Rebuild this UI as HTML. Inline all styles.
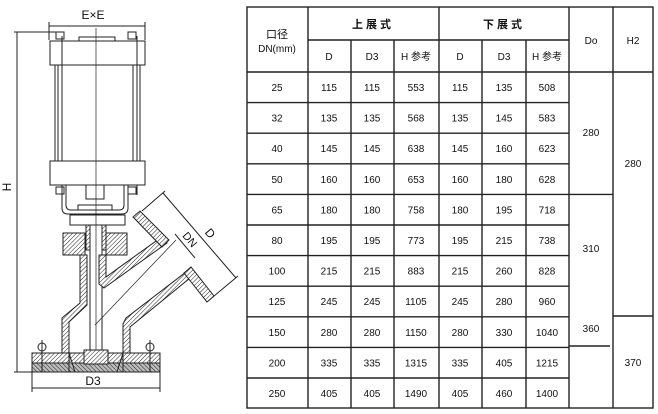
<!DOCTYPE html>
<html><head><meta charset="utf-8"><style>
html,body{margin:0;padding:0;background:#fff;width:658px;height:414px;overflow:hidden}
svg{display:block}
text{font-family:"Liberation Sans","Noto Sans CJK SC",sans-serif;fill:#111}
</style></head><body>
<svg width="658" height="414" viewBox="0 0 658 414" xmlns="http://www.w3.org/2000/svg">
<defs>
<pattern id="h" width="3" height="3" patternUnits="userSpaceOnUse" patternTransform="rotate(45)">
<rect width="3" height="3" fill="#fff"/><line x1="0" y1="0" x2="0" y2="3" stroke="#222" stroke-width="1"/></pattern>
<pattern id="h2" width="3" height="3" patternUnits="userSpaceOnUse" patternTransform="rotate(-45)">
<rect width="3" height="3" fill="#bbb"/><line x1="0" y1="0" x2="0" y2="3" stroke="#222" stroke-width="1"/></pattern>
</defs>

<!-- ===== Valve drawing ===== -->
<g stroke="#222" stroke-width="1" fill="none">
<!-- E x E dim -->
<line x1="49" y1="26" x2="145" y2="26"/>
<line x1="49" y1="22" x2="49" y2="40"/><line x1="145" y1="22" x2="145" y2="40"/>
<!-- H dim -->
<line x1="17" y1="32" x2="17" y2="372"/>
<line x1="14" y1="32" x2="60" y2="32"/><line x1="14" y1="372" x2="32" y2="372"/>
<!-- D3 dim -->
<line x1="32" y1="388" x2="160" y2="388"/>
<line x1="32" y1="372" x2="32" y2="392"/><line x1="160" y1="372" x2="160" y2="392"/>
<!-- top plate -->
<rect x="79" y="37" width="36" height="4"/>
<rect x="50" y="41" width="95" height="24" fill="#fff"/>
<rect x="56" y="32" width="8" height="7"/><rect x="128" y="32" width="8" height="7"/>
<!-- cylinder -->
<rect x="55" y="65" width="85" height="96"/>
<line x1="58" y1="65" x2="58" y2="161"/><line x1="62" y1="36" x2="62" y2="195"/>
<line x1="133" y1="65" x2="133" y2="161"/><line x1="137" y1="36" x2="137" y2="195"/>
<rect x="50" y="161" width="95" height="24" fill="#fff"/>
<rect x="56" y="187" width="8" height="7"/><rect x="128" y="187" width="8" height="7"/>
<!-- yoke -->
<path d="M62 185 V208 Q62 214 68 214 H122 Q128 214 128 208 V185"/>
<path d="M66 185 V205 Q66 210 71 210 H119 Q124 210 124 205 V185"/>
<rect x="86" y="185" width="18" height="14"/>
<rect x="78" y="205" width="34" height="5"/>
<rect x="70" y="215" width="55" height="10"/>
<!-- center line -->
<line x1="96" y1="28" x2="96" y2="372" stroke-width="0.7"/>
<!-- stem -->
<rect x="90" y="225" width="12" height="135"/>
<rect x="86" y="225" width="4" height="25" fill="url(#h)"/>
<rect x="102" y="225" width="4" height="25" fill="url(#h)"/>
<!-- bonnet flange -->
<rect x="63" y="233" width="22" height="22" fill="url(#h)"/>
<rect x="106" y="233" width="21" height="22" fill="url(#h)"/>
<!-- body walls -->
<polygon points="80,255 87,255 87,305 69,322 69,353 62,353 62,318 80,303" fill="url(#h)"/>
<polygon points="99,255 106,255 106,277 163,236 167,243 104,288 99,284" fill="url(#h)"/>
<polygon points="123,353 130,353 130,327 190,278 186,272 126,318 123,324" fill="url(#h)"/>
<!-- branch flanges -->
<polygon points="133,217 140,211 169,240 162,247" fill="url(#h)"/>
<polygon points="184,273 191,267 214,296 207,302" fill="url(#h)"/>
<!-- base flange -->
<rect x="32" y="353" width="128" height="10" fill="url(#h)"/>
<rect x="32" y="363" width="128" height="9" fill="url(#h2)"/>
<polygon points="69,353 75,372 117,372 123,353 123,372 69,372" fill="url(#h2)"/>
<rect x="84" y="350" width="24" height="14" fill="url(#h)"/>
<circle cx="42" cy="347" r="4"/><line x1="42" y1="340" x2="42" y2="372"/>
<circle cx="150" cy="347" r="4"/><line x1="150" y1="340" x2="150" y2="372"/>
<!-- dims on branch -->
<line x1="163" y1="193" x2="236" y2="278"/>
<line x1="142" y1="211" x2="165" y2="191"/><line x1="214" y1="296" x2="238" y2="276"/>
<line x1="175" y1="234" x2="195" y2="258"/>
<line x1="95" y1="325" x2="176" y2="240" stroke-width="0.7"/>
</g>
<text x="93" y="19" font-size="12" text-anchor="middle">E×E</text>
<text x="93" y="385" font-size="12" text-anchor="middle">D3</text>
<text x="14" y="190" font-size="12" text-anchor="middle" transform="rotate(-90 11 190)">H</text>
<text x="207" y="236" font-size="12" text-anchor="middle" transform="rotate(50 207 236)">D</text>
<text x="187" y="242" font-size="11" text-anchor="middle" transform="rotate(50 187 242)">DN</text>

<!-- ===== Table ===== -->
<g stroke="#222" stroke-width="1.4" fill="none">
<rect x="247" y="7" width="406" height="401"/>
<line x1="308" y1="7" x2="308" y2="408"/>
<line x1="439" y1="7" x2="439" y2="408"/>
<line x1="569" y1="7" x2="569" y2="408"/>
<line x1="613" y1="7" x2="613" y2="408"/>
<line x1="351" y1="40" x2="351" y2="408"/>
<line x1="394" y1="40" x2="394" y2="408"/>
<line x1="482" y1="40" x2="482" y2="408"/>
<line x1="526" y1="40" x2="526" y2="408"/>
<line x1="308" y1="40" x2="569" y2="40"/>
<line x1="247" y1="72" x2="653" y2="72"/>
<line x1="247" y1="102.6" x2="569" y2="102.6"/>
<line x1="247" y1="133.2" x2="569" y2="133.2"/>
<line x1="247" y1="163.8" x2="569" y2="163.8"/>
<line x1="247" y1="194.4" x2="613" y2="194.4"/>
<line x1="247" y1="225" x2="569" y2="225"/>
<line x1="247" y1="255.6" x2="569" y2="255.6"/>
<line x1="247" y1="286.2" x2="569" y2="286.2"/>
<line x1="247" y1="316.8" x2="569" y2="316.8"/>
<line x1="613" y1="316" x2="653" y2="316"/>
<line x1="247" y1="347.4" x2="569" y2="347.4"/>
<line x1="569" y1="346" x2="610" y2="346"/>
<line x1="247" y1="378" x2="569" y2="378"/>
</g>
<g font-size="10" text-anchor="middle">
<text x="277" y="38" font-size="11">口径</text>
<text x="277" y="52">DN(mm)</text>
<text x="373" y="28" font-size="11" font-weight="bold" letter-spacing="3">上展式</text>
<text x="504" y="28" font-size="11" font-weight="bold" letter-spacing="3">下展式</text>
<text x="591" y="44">Do</text>
<text x="633" y="44">H2</text>
<text x="329" y="60">D</text><text x="372" y="60">D3</text><text x="416" y="60">H 参考</text>
<text x="460" y="60">D</text><text x="504" y="60">D3</text><text x="547" y="60">H 参考</text>
<text x="591" y="136">280</text>
<text x="591" y="252">310</text>
<text x="591" y="332">360</text>
<text x="633" y="167">280</text>
<text x="633" y="366">370</text>
</g>
<g font-size="10" text-anchor="middle">
<g transform="translate(0,91)"><text x="277">25</text><text x="329">115</text><text x="372">115</text><text x="416">553</text><text x="460">115</text><text x="504">135</text><text x="547">508</text></g>
<g transform="translate(0,121.6)"><text x="277">32</text><text x="329">135</text><text x="372">135</text><text x="416">568</text><text x="460">135</text><text x="504">145</text><text x="547">583</text></g>
<g transform="translate(0,152.2)"><text x="277">40</text><text x="329">145</text><text x="372">145</text><text x="416">638</text><text x="460">145</text><text x="504">160</text><text x="547">623</text></g>
<g transform="translate(0,182.8)"><text x="277">50</text><text x="329">160</text><text x="372">160</text><text x="416">653</text><text x="460">160</text><text x="504">180</text><text x="547">628</text></g>
<g transform="translate(0,213.4)"><text x="277">65</text><text x="329">180</text><text x="372">180</text><text x="416">758</text><text x="460">180</text><text x="504">195</text><text x="547">718</text></g>
<g transform="translate(0,244)"><text x="277">80</text><text x="329">195</text><text x="372">195</text><text x="416">773</text><text x="460">195</text><text x="504">215</text><text x="547">738</text></g>
<g transform="translate(0,274.6)"><text x="277">100</text><text x="329">215</text><text x="372">215</text><text x="416">883</text><text x="460">215</text><text x="504">260</text><text x="547">828</text></g>
<g transform="translate(0,305.2)"><text x="277">125</text><text x="329">245</text><text x="372">245</text><text x="416">1105</text><text x="460">245</text><text x="504">280</text><text x="547">960</text></g>
<g transform="translate(0,335.8)"><text x="277">150</text><text x="329">280</text><text x="372">280</text><text x="416">1150</text><text x="460">280</text><text x="504">330</text><text x="547">1040</text></g>
<g transform="translate(0,366.4)"><text x="277">200</text><text x="329">335</text><text x="372">335</text><text x="416">1315</text><text x="460">335</text><text x="504">405</text><text x="547">1215</text></g>
<g transform="translate(0,397)"><text x="277">250</text><text x="329">405</text><text x="372">405</text><text x="416">1490</text><text x="460">405</text><text x="504">460</text><text x="547">1400</text></g>
</g>
</svg>
</body></html>
